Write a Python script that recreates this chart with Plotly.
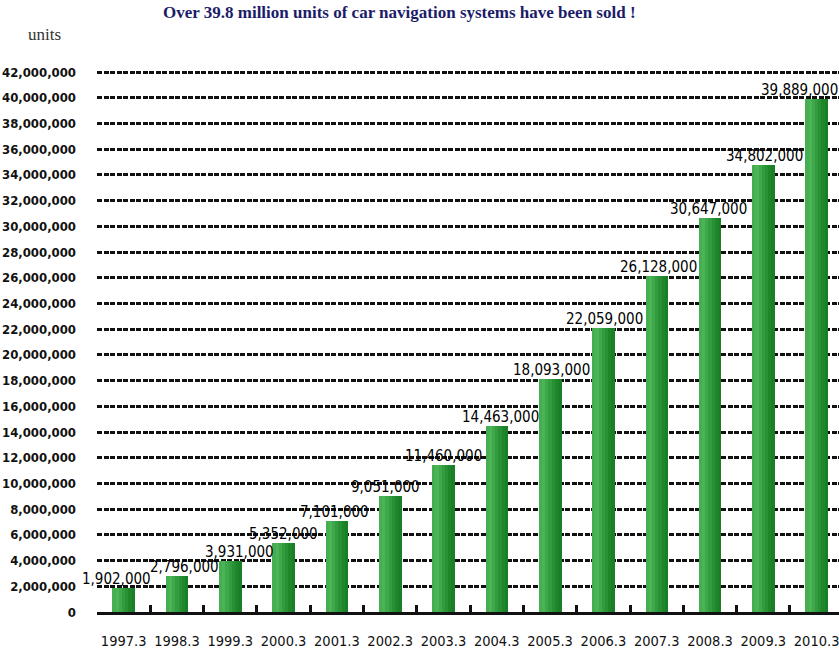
import plotly.graph_objects as go

# Cumulative car navigation shipments (fiscal year ending March)
periods = ["1997.3", "1998.3", "1999.3", "2000.3", "2001.3", "2002.3", "2003.3",
           "2004.3", "2005.3", "2006.3", "2007.3", "2008.3", "2009.3", "2010.3"]
units_sold = [1902000, 2796000, 3931000, 5352000, 7101000, 9051000, 11460000,
              14463000, 18093000, 22059000, 26128000, 30647000, 34802000, 39889000]
label_shift = [-7, 8, 9, 0, -2, -5, 0, 4, 1, 1, 2, -2, 1, -17]

y_ticks = list(range(0, 42000001, 2000000))
y_tick_text = ["<b>0</b>"] + [f"<b>{v:,}</b>" for v in y_ticks[1:]]

NARROW = "DejaVu Sans Condensed, Liberation Sans Narrow, sans-serif"
SERIF = "Liberation Serif, Times New Roman, serif"

fig = go.Figure()

# Horizontal shading across each bar: lighter left edge, darker right edge
shades = ["#45ae50", "#4cb457", "#3fa84a", "#329c3e", "#279134", "#1f862c", "#1a7f27"]
bar_w = 0.42
slice_w = bar_w / len(shades)
for i, col in enumerate(shades):
    fig.add_trace(go.Bar(
        x=list(range(len(periods))),
        y=units_sold,
        width=slice_w + 0.004,
        offset=-bar_w / 2 + i * slice_w,
        marker=dict(color=col, line=dict(width=0)),
        hoverinfo="skip",
        showlegend=False,
    ))

# Value labels above each bar
for i, (v, dx) in enumerate(zip(units_sold, label_shift)):
    fig.add_annotation(
        x=i, y=v, text=f"{v:,}", showarrow=False,
        xref="x", yref="y", yanchor="bottom", xanchor="center",
        xshift=dx, yshift=-2,
        font=dict(family=NARROW, size=15, color="#000000"),
    )

fig.add_annotation(
    x=0.408, y=1.108, xref="paper", yref="paper",
    xanchor="center", yanchor="middle",
    text="<b>Over 39.8 million units of car navigation systems have been sold !</b>",
    showarrow=False,
    font=dict(family=SERIF, size=17, color="#1c1c6a"),
)
fig.add_annotation(
    x=-0.0714, y=1.067, xref="paper", yref="paper",
    xanchor="center", yanchor="middle",
    text="units", showarrow=False,
    font=dict(family=SERIF, size=17, color="#333333"),
)

fig.update_layout(
    width=839, height=654,
    margin=dict(l=97, r=0, t=71, b=42),
    paper_bgcolor="white", plot_bgcolor="white",
    barmode="overlay",
    bargap=0,
    xaxis=dict(
        range=[-0.5, 13.42],
        tickmode="array",
        tickvals=list(range(len(periods))),
        ticktext=periods,
        showgrid=False,
        zeroline=False,
        showline=True, linecolor="#111111", linewidth=3,
        ticks="",
        tickfont=dict(family=NARROW, size=14.5, color="#111111"),
        ticklabelstandoff=14,
        ticklabeloverflow="allow",
        fixedrange=True,
    ),
    xaxis2=dict(
        overlaying="x",
        range=[-0.5, 13.42],
        tickmode="array",
        tickvals=[i + 0.5 for i in range(-1, len(periods))],
        showticklabels=False,
        ticks="inside", ticklen=7, tickwidth=2.5, tickcolor="#111111",
        showgrid=False, zeroline=False,
        side="bottom",
    ),
    yaxis=dict(
        range=[0, 42080000],
        tickmode="array",
        tickvals=y_ticks,
        ticktext=y_tick_text,
        showgrid=True, gridcolor="#111111", gridwidth=3, griddash="5px,1.5px",
        zeroline=False,
        showline=False,
        ticks="",
        tickfont=dict(family=NARROW, size=13, color="#111111"),
        ticklabelstandoff=20,
        fixedrange=True,
    ),
)

# Invisible trace that carries the category-boundary tick marks
fig.add_trace(go.Scatter(x=[0], y=[0], xaxis="x2", mode="markers",
                         marker=dict(opacity=0), hoverinfo="skip", showlegend=False))

fig.write_html("out.html")
